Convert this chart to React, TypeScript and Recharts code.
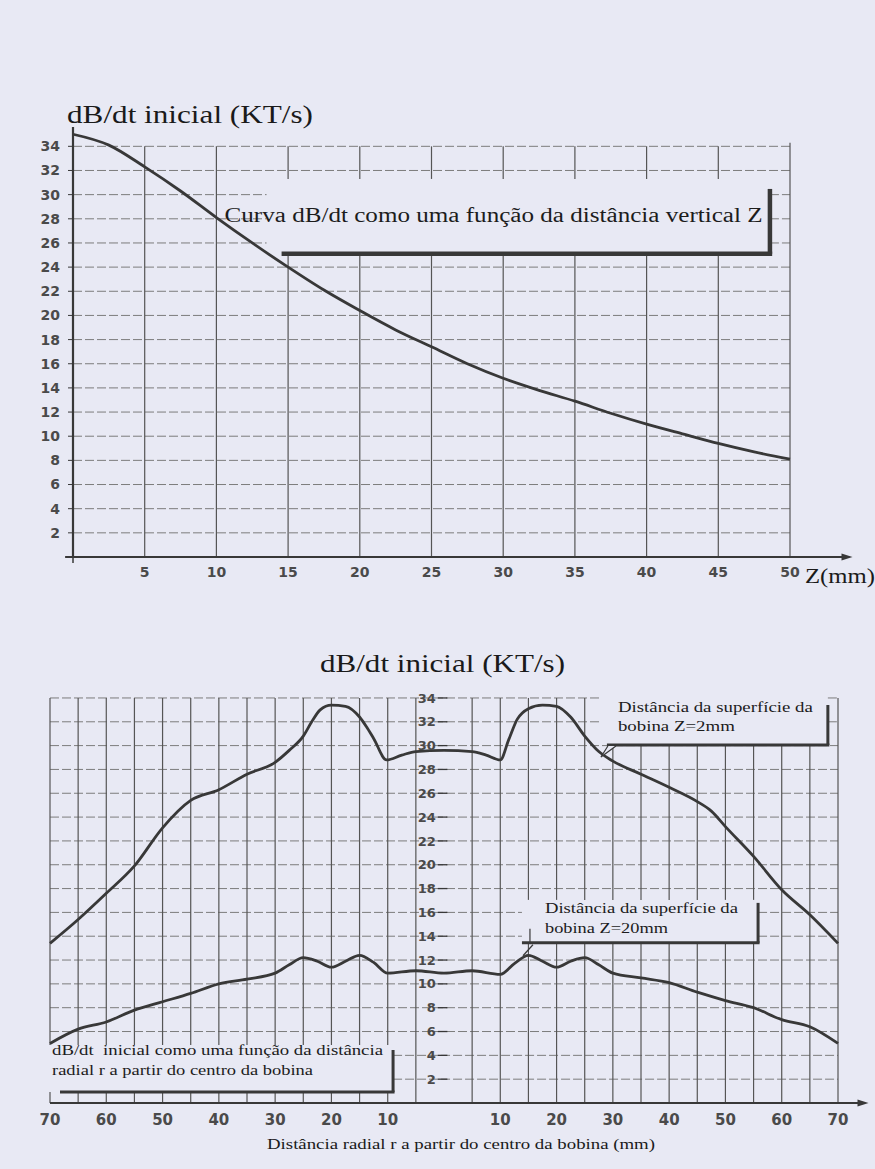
import React from "react";
import { Line, LineChart, ReferenceArea, ReferenceLine, XAxis, YAxis } from "recharts";

const BG = "#e8e9f4";
const INK = "#383838";
const GRID_V = "#555555";
const GRID_H = "#7c7c7c";
const LABEL = "#4a4a4a";
const SERIF = "'Liberation Serif', 'Times New Roman', serif";
const SANS = "'DejaVu Sans', sans-serif";

// chart 1 - dB/dt against vertical distance Z (mm)
const zDistance = [0, 2.5, 5, 7.5, 10, 12.5, 15, 17.5, 20, 22.5, 25, 27.5, 30, 32.5, 35, 37.5, 40, 42.5, 45, 47.5, 50];
const dbdtVertical = [35.0, 34.1, 32.3, 30.3, 28.1, 26.0, 24.0, 22.1, 20.4, 18.8, 17.4, 16.0, 14.8, 13.8, 12.9, 11.9, 11.0, 10.2, 9.4, 8.7, 8.1];
const zTicks = [5, 10, 15, 20, 25, 30, 35, 40, 45, 50];
const dbdtTicks = [2, 4, 6, 8, 10, 12, 14, 16, 18, 20, 22, 24, 26, 28, 30, 32, 34];

// chart 2 - dB/dt against radial distance r (mm), two coil distances
const radialZ2 = [-70, -65, -60, -55, -50, -45, -40, -35, -30, -27.5, -25, -23.5, -22, -20, -17.5, -15, -13.8, -12.5, -10.2, -7.5, -5, 0, 5, 7.5, 10, 11.5, 13, 15, 17.5, 20, 22.5, 25, 27.5, 30, 35, 40, 45, 47.5, 50, 55, 60, 65, 70];
const dbdtZ2 = [13.4, 15.4, 17.6, 19.9, 23.1, 25.4, 26.3, 27.6, 28.6, 29.6, 30.8, 32.0, 33.0, 33.4, 33.3, 32.4, 31.6, 30.6, 28.8, 29.2, 29.5, 29.6, 29.5, 29.2, 28.8, 30.5, 32.2, 33.1, 33.4, 33.3, 32.4, 30.8, 29.5, 28.7, 27.6, 26.5, 25.3, 24.5, 23.2, 20.7, 17.9, 15.8, 13.4];
const radialZ20 = [-70, -65, -60, -55, -50, -45, -40, -35, -30, -27.5, -25, -22.5, -20, -17.5, -15, -12.5, -10, -5, 0, 5, 10, 12.5, 15, 17.5, 20, 22.5, 25, 27.5, 30, 35, 40, 45, 50, 55, 60, 65, 70];
const dbdtZ20 = [5.0, 6.2, 6.8, 7.8, 8.5, 9.2, 10.0, 10.4, 10.9, 11.6, 12.2, 11.9, 11.4, 11.9, 12.4, 11.8, 10.9, 11.1, 10.9, 11.1, 10.8, 11.7, 12.4, 11.9, 11.4, 11.9, 12.2, 11.6, 10.9, 10.5, 10.1, 9.3, 8.6, 8.0, 7.0, 6.4, 5.0];
const radialTicks = [-70, -65, -60, -55, -50, -45, -40, -35, -30, -25, -20, -15, -10, -5, 5, 10, 15, 20, 25, 30, 35, 40, 45, 50, 55, 60, 65, 70];

const verticalData = zDistance.map((z, i) => ({ z, v: dbdtVertical[i] }));
const z2Data = radialZ2.map((r, i) => ({ r, v: dbdtZ2[i] }));
const z20Data = radialZ20.map((r, i) => ({ r, v: dbdtZ20[i] }));

type Note = {
  lines: string[];
  lengths: number[];
  size: number;
  dx: number;
  dy: number[];
  shadowFrom: number;
  rightFrom: number;
  thick: number;
  pointer?: "down" | "tick";
};
type Box = { x1: number; x2: number; y1: number; y2: number; note: Note };

const verticalNotes: Box[] = [
  {
    x1: 13.5, x2: 48.6, y1: 25.1, y2: 31.3,
    note: {
      lines: ["Curva dB/dt como uma função da distância vertical Z"],
      lengths: [538], size: 20, dx: -42, dy: [43], shadowFrom: 15, rightFrom: 10, thick: 4.5,
    },
  },
];

const radialNotes: Box[] = [
  {
    x1: 27.7, x2: 68.2, y1: 30.05, y2: 34.25,
    note: {
      lines: ["Distância da superfície da", "bobina Z=2mm"],
      lengths: [195, 117], size: 15, dx: 18, dy: [17, 36], shadowFrom: 7, rightFrom: 10, thick: 3, pointer: "down",
    },
  },
  {
    x1: 13.85, x2: 55.8, y1: 13.45, y2: 17.05,
    note: {
      lines: ["Distância da superfície da", "bobina Z=20mm"],
      lengths: [193, 123], size: 15, dx: 23, dy: [13, 33], shadowFrom: 0, rightFrom: 3, thick: 3, pointer: "tick",
    },
  },
  {
    x1: -70, x2: -9.05, y1: 0.93, y2: 4.87,
    note: {
      lines: ["dB/dt\u00a0 inicial como uma função da distância", "radial r a partir do centro da bobina"],
      lengths: [331, 261], size: 15, dx: 2, dy: [10, 30], shadowFrom: 10, rightFrom: 5, thick: 3,
    },
  },
];

// grid lines stop where a note box sits, so the boxes read as opaque
const gaps = (from: number, to: number, cuts: number[][]) => {
  const out: number[][] = [];
  let start = from;
  [...cuts]
    .sort((a, b) => a[0] - b[0])
    .forEach(([a, b]) => {
      if (b <= start || a >= to) return;
      if (a > start) out.push([start, a]);
      start = Math.max(start, b);
    });
  if (start < to) out.push([start, to]);
  return out;
};
const hPieces = (t: number, from: number, to: number, boxes: Box[]) =>
  gaps(from, to, boxes.filter((b) => t >= b.y1 && t <= b.y2).map((b) => [b.x1, b.x2]));
const vPieces = (t: number, from: number, to: number, boxes: Box[]) =>
  gaps(from, to, boxes.filter((b) => t >= b.x1 && t <= b.x2).map((b) => [b.y1, b.y2]));

const noteShape = (n: Note) => (p: any) => {
  const { x, y, width, height } = p;
  const r = x + width;
  const b = y + height;
  return (
    <g>
      {n.lines.map((t, i) => (
        <text
          key={i}
          x={x + n.dx}
          y={y + n.dy[i]}
          fontFamily={SERIF}
          fontSize={n.size}
          fill="#1c1c1c"
          textLength={n.lengths[i]}
          lengthAdjust="spacingAndGlyphs"
          style={{ whiteSpace: "pre" }}
        >
          {t}
        </text>
      ))}
      <line x1={x + n.shadowFrom} y1={b} x2={r + n.thick / 2} y2={b} stroke={INK} strokeWidth={n.thick} />
      <line x1={r} y1={y + n.rightFrom} x2={r} y2={b} stroke={INK} strokeWidth={n.thick} />
      {n.pointer === "down" && (
        <polyline points={`${x + 16},${b + 1} ${x + 1},${b + 12} ${x + 8},${b + 1}`} fill={BG} stroke={INK} strokeWidth={1.2} />
      )}
      {n.pointer === "tick" && (
        <g stroke={INK} strokeWidth={1.2}>
          <line x1={x + 8} y1={b - 14} x2={x + 8} y2={b} />
          <line x1={x + 11} y1={b + 2} x2={x + 1} y2={b + 13} />
        </g>
      )}
    </g>
  );
};

const axisArrow = (p: any) => {
  const { x1, y1, x2, y2 } = p;
  return (
    <g>
      <line x1={x1} y1={y1} x2={x2} y2={y2} stroke={INK} strokeWidth={2.2} />
      <polygon points={`${x2 + 8},${y2} ${x2 - 3},${y2 - 3.5} ${x2 - 3},${y2 + 3.5}`} fill={INK} />
    </g>
  );
};

const tickFont = { fill: LABEL, fontFamily: SANS, fontWeight: 700 };

const VerticalChart = () => (
  <LineChart width={875} height={620} data={verticalData} margin={{ top: 127, right: 85, bottom: 33, left: 23 }}>
    {dbdtTicks.map((t) =>
      hPieces(t, 0, 50, verticalNotes).map(([a, b]) => (
        <ReferenceLine
          key={`h${t}-${a}`}
          segment={[{ x: a, y: t }, { x: b, y: t }]}
          stroke={GRID_H}
          strokeDasharray="9 3"
        />
      ))
    )}
    {zTicks.map((t) =>
      vPieces(t, 0, t === 50 ? 34.3 : 34, verticalNotes).map(([a, b]) => (
        <ReferenceLine
          key={`v${t}-${a}`}
          segment={[{ x: t, y: a }, { x: t, y: b }]}
          stroke={GRID_V}
          strokeWidth={1.2}
        />
      ))
    )}
    <XAxis
      dataKey="z"
      type="number"
      domain={[0, 50]}
      ticks={zTicks}
      axisLine={false}
      tickLine={false}
      tickSize={6}
      tickMargin={4}
      height={30}
      tick={{ ...tickFont, fontSize: 14 }}
    />
    <YAxis
      type="number"
      domain={[0, 35.6]}
      ticks={dbdtTicks}
      width={50}
      tickSize={5}
      tickMargin={8}
      axisLine={{ stroke: INK, strokeWidth: 2.2 }}
      tickLine={{ stroke: INK }}
      tick={{ ...tickFont, fontSize: 14 }}
    />
    <ReferenceLine segment={[{ x: -0.55, y: 0 }, { x: 53.8, y: 0 }]} ifOverflow="visible" shape={axisArrow} />
    <ReferenceLine segment={[{ x: 0, y: 0 }, { x: 0, y: -0.5 }]} ifOverflow="visible" stroke={INK} strokeWidth={1.5} />
    <Line dataKey="v" type="monotone" stroke={INK} strokeWidth={2.8} dot={false} activeDot={false} isAnimationActive={false} />
  </LineChart>
);

// annotation layer, same plot area and domains as the chart under it
const VerticalNotes = () => (
  <LineChart width={875} height={620} data={verticalData} margin={{ top: 127, right: 85, bottom: 63, left: 73 }}>
    <XAxis dataKey="z" type="number" domain={[0, 50]} hide />
    <YAxis type="number" domain={[0, 35.6]} hide />
    <Line dataKey="v" stroke="none" dot={false} activeDot={false} isAnimationActive={false} />
    {verticalNotes.map((b, i) => (
      <ReferenceArea key={i} x1={b.x1} x2={b.x2} y1={b.y1} y2={b.y2} shape={noteShape(b.note)} />
    ))}
  </LineChart>
);

const RadialChart = () => (
  <LineChart width={875} height={549} margin={{ top: 72, right: 37, bottom: 36, left: 50 }}>
    {dbdtTicks.map((t) =>
      hPieces(t, -70, 70, radialNotes).map(([a, b]) => (
        <ReferenceLine
          key={`h${t}-${a}`}
          segment={[{ x: a, y: t }, { x: b, y: t }]}
          stroke={GRID_H}
          strokeDasharray="9 3"
        />
      ))
    )}
    {radialTicks.map((t) =>
      vPieces(t, 0, 34, radialNotes).map(([a, b]) => (
        <ReferenceLine
          key={`v${t}-${a}`}
          segment={[{ x: t, y: a }, { x: t, y: b }]}
          stroke={GRID_V}
          strokeWidth={1.2}
        />
      ))
    )}
    <XAxis
      dataKey="r"
      type="number"
      domain={[-70, 70]}
      ticks={radialTicks}
      interval={0}
      tickFormatter={(v: number) => (v % 10 === 0 ? String(Math.abs(v)) : "")}
      axisLine={false}
      tickLine={false}
      tickSize={6}
      tickMargin={5}
      height={30}
      tick={{ ...tickFont, fontSize: 15 }}
    />
    <YAxis type="number" domain={[0, 34.5]} ticks={dbdtTicks} hide />
    {dbdtTicks.map((t) => (
      <ReferenceLine
        key={"y" + t}
        segment={[{ x: -1.1, y: t }, { x: 0.6, y: t }]}
        stroke={INK}
        strokeWidth={1.3}
        label={{ value: String(t), position: "left", offset: 2, fontSize: 13, ...tickFont }}
      />
    ))}
    <ReferenceLine segment={[{ x: -70, y: 0 }, { x: 74, y: 0 }]} ifOverflow="visible" shape={axisArrow} />
    <Line data={z2Data} dataKey="v" type="monotone" stroke={INK} strokeWidth={2.8} dot={false} activeDot={false} isAnimationActive={false} />
    <Line data={z20Data} dataKey="v" type="monotone" stroke={INK} strokeWidth={2.8} dot={false} activeDot={false} isAnimationActive={false} />
  </LineChart>
);

const RadialNotes = () => (
  <LineChart width={875} height={549} data={z2Data} margin={{ top: 72, right: 37, bottom: 66, left: 50 }}>
    <XAxis dataKey="r" type="number" domain={[-70, 70]} hide />
    <YAxis type="number" domain={[0, 34.5]} hide />
    <Line dataKey="v" stroke="none" dot={false} activeDot={false} isAnimationActive={false} />
    {radialNotes.map((b, i) => (
      <ReferenceArea key={i} x1={b.x1} x2={b.x2} y1={b.y1} y2={b.y2} shape={noteShape(b.note)} />
    ))}
  </LineChart>
);

const layer = (top: number): React.CSSProperties => ({ position: "absolute", left: 0, top });

export default function App() {
  return (
    <div style={{ position: "absolute", left: 0, top: 0, width: 875, height: 1169, background: BG, overflow: "hidden" }}>
      <div style={layer(0)}>
        <VerticalChart />
      </div>
      <div style={layer(0)}>
        <VerticalNotes />
      </div>
      <div style={layer(620)}>
        <RadialChart />
      </div>
      <div style={layer(620)}>
        <RadialNotes />
      </div>
      <svg width={875} height={1169} style={{ position: "absolute", left: 0, top: 0, pointerEvents: "none" }}>
        <g fontFamily={SERIF} fill="#1a1a1a">
          <text x={67} y={123} fontSize={26} textLength={246} lengthAdjust="spacingAndGlyphs">
            dB/dt inicial (KT/s)
          </text>
          <text x={805} y={583} fontSize={22} textLength={70} lengthAdjust="spacingAndGlyphs">
            Z(mm)
          </text>
          <text x={320} y={672} fontSize={26} textLength={245} lengthAdjust="spacingAndGlyphs">
            dB/dt inicial (KT/s)
          </text>
          <text x={267} y={1149} fontSize={15} textLength={388} lengthAdjust="spacingAndGlyphs">
            Distância radial r a partir do centro da bobina (mm)
          </text>
        </g>
      </svg>
    </div>
  );
}
